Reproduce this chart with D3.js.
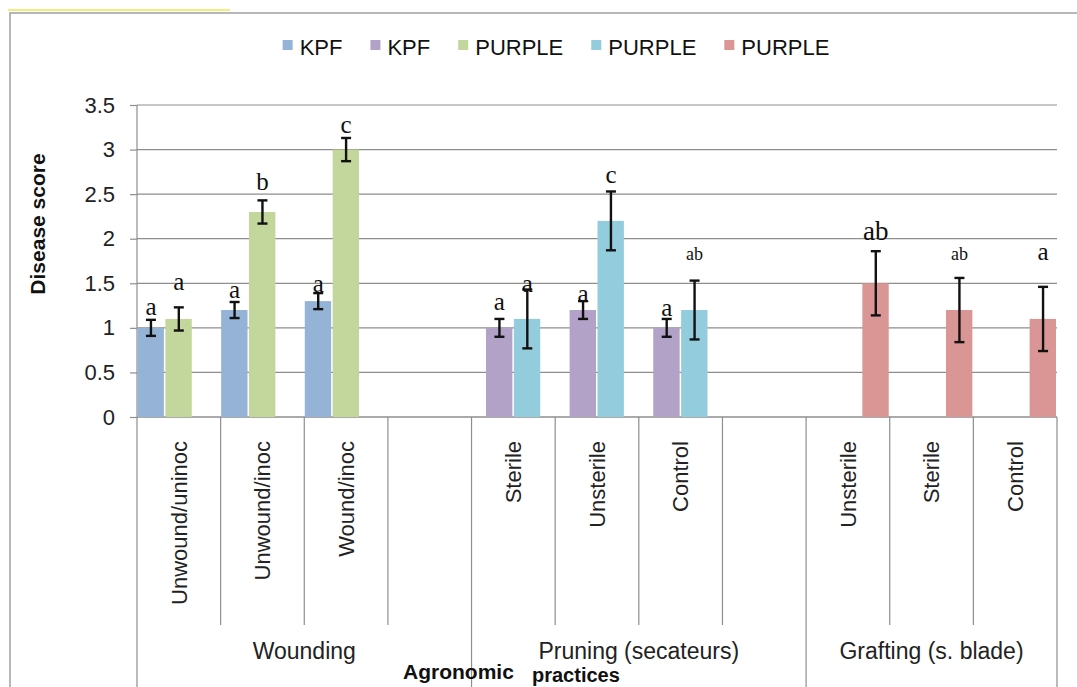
<!DOCTYPE html>
<html>
<head>
<meta charset="utf-8">
<script src="https://cdn.jsdelivr.net/npm/d3@7"></script>
<style>
  body { margin: 0; background: #fff; }
  svg { display: block; font-family: "Liberation Sans", Arial, sans-serif; }
</style>
</head>
<body>
<svg id="chart" width="1077" height="687"></svg>
<script>
// x axis categories, blank slots separate the three practices
var categories = ["Unwound/uninoc", "Unwound/inoc", "Wound/inoc", "",
  "Sterile", "Unsterile", "Control", "",
  "Unsterile", "Sterile", "Control"];
var groups = ["Wounding", "Pruning (secateurs)", "Grafting (s. blade)"];
var groupSizes = [4, 4, 3];
var seriesNames = ["KPF", "KPF", "PURPLE", "PURPLE", "PURPLE"];
var seriesColors = ["#95b3d7", "#b3a2c7", "#c3d69b", "#93cddd", "#d99694"];
var yTicks = [0, 0.5, 1, 1.5, 2, 2.5, 3, 3.5];

// mean disease score (null = no bar)
var kpfWounding    = [1.0, 1.2, 1.3, null, null, null, null, null, null, null, null];
var kpfPruning     = [null, null, null, null, 1.0, 1.2, 1.0, null, null, null, null];
var purpleWounding = [1.1, 2.3, 3.0, null, null, null, null, null, null, null, null];
var purplePruning  = [null, null, null, null, 1.1, 2.2, 1.2, null, null, null, null];
var purpleGrafting = [null, null, null, null, null, null, null, null, 1.5, 1.2, 1.1];

// error bar half widths
var kpfWoundingErr    = [0.09, 0.09, 0.09, null, null, null, null, null, null, null, null];
var kpfPruningErr     = [null, null, null, null, 0.1, 0.1, 0.1, null, null, null, null];
var purpleWoundingErr = [0.13, 0.13, 0.13, null, null, null, null, null, null, null, null];
var purplePruningErr  = [null, null, null, null, 0.33, 0.33, 0.33, null, null, null, null];
var purpleGraftingErr = [null, null, null, null, null, null, null, null, 0.36, 0.36, 0.36];

// significance letters and the score level they sit at
var kpfWoundingSig    = ["a", "a", "a", null, null, null, null, null, null, null, null];
var kpfPruningSig     = [null, null, null, null, "a", "a", "a", null, null, null, null];
var purpleWoundingSig = ["a", "b", "c", null, null, null, null, null, null, null, null];
var purplePruningSig  = [null, null, null, null, "a", "c", "ab", null, null, null, null];
var purpleGraftingSig = [null, null, null, null, null, null, null, null, "ab", "ab", "a"];

var kpfWoundingSigAt    = [1.14, 1.33, 1.40, null, null, null, null, null, null, null, null];
var kpfPruningSigAt     = [null, null, null, null, 1.20, 1.29, 1.13, null, null, null, null];
var purpleWoundingSigAt = [1.42, 2.55, 3.19, null, null, null, null, null, null, null, null];
var purplePruningSigAt  = [null, null, null, null, 1.40, 2.62, 1.76, null, null, null, null];
var purpleGraftingSigAt = [null, null, null, null, null, null, null, null, 1.99, 1.76, 1.76];

var values = [kpfWounding, kpfPruning, purpleWounding, purplePruning, purpleGrafting];
var errors = [kpfWoundingErr, kpfPruningErr, purpleWoundingErr, purplePruningErr, purpleGraftingErr];
var sigs = [kpfWoundingSig, kpfPruningSig, purpleWoundingSig, purplePruningSig, purpleGraftingSig];
var sigAt = [kpfWoundingSigAt, kpfPruningSigAt, purpleWoundingSigAt, purplePruningSigAt, purpleGraftingSigAt];

var margin = { top: 105, left: 137 },
  width = 920,
  height = 312,
  fullH = 687 - margin.top;

var svg = d3.select("#chart");

// outer frame + yellow mark at the top
svg.append("rect")
  .attr("x", 10).attr("y", 13).attr("width", 1100).attr("height", 700)
  .attr("fill", "none").attr("stroke", "#a0a0a0").attr("stroke-width", 1.5);
svg.append("line")
  .attr("x1", 8).attr("x2", 230).attr("y1", 10).attr("y2", 10)
  .attr("stroke", "#f2ee7a").attr("stroke-width", 2);

var g = svg.append("g")
  .attr("transform", "translate(" + margin.left + "," + margin.top + ")");

var x = d3.scaleBand().domain(d3.range(categories.length)).range([0, width]).padding(0);
var y = d3.scaleLinear().domain([0, 3.5]).range([height, 0]);
var barW = x.bandwidth() / 3;
// series overlap by half a bar
var xs = d3.scaleLinear().domain([0, seriesNames.length - 1]).range([0, x.bandwidth() - barW]);

// gridlines
g.selectAll(".grid")
  .data(yTicks)
  .enter().append("line")
  .attr("x1", 0).attr("x2", width)
  .attr("y1", function (d) { return y(d); })
  .attr("y2", function (d) { return y(d); })
  .attr("stroke", "#8e8e8e").attr("stroke-width", 1.2);

// y axis
var yAxis = g.append("g")
  .call(d3.axisLeft(y).tickValues(yTicks).tickFormat(d3.format(""))
    .tickSizeInner(7).tickSizeOuter(0).tickPadding(15));
yAxis.select(".domain").remove();
yAxis.selectAll("line").attr("stroke", "#8e8e8e").attr("stroke-width", 1.2);
yAxis.selectAll("text")
  .attr("font-family", "'Liberation Sans', Arial, sans-serif")
  .attr("font-size", 22).attr("fill", "#222");

// x axis line and category separators
g.append("line")
  .attr("x1", 0).attr("x2", width).attr("y1", height).attr("y2", height)
  .attr("stroke", "#8e8e8e").attr("stroke-width", 1.2);
g.append("line")
  .attr("x1", 0).attr("x2", 0).attr("y1", 0).attr("y2", fullH)
  .attr("stroke", "#8e8e8e").attr("stroke-width", 1.2);

var groupEdges = [0];
groupSizes.forEach(function (n) { groupEdges.push(groupEdges[groupEdges.length - 1] + n); });

g.selectAll(".sep")
  .data(d3.range(1, categories.length + 1))
  .enter().append("line")
  .attr("x1", function (i) { return i < categories.length ? x(i) : width; })
  .attr("x2", function (i) { return i < categories.length ? x(i) : width; })
  .attr("y1", height)
  .attr("y2", function (i) { return groupEdges.indexOf(i) >= 0 ? fullH : 520; })
  .attr("stroke", "#8e8e8e").attr("stroke-width", 1.2);

// category labels
g.selectAll(".cat")
  .data(categories)
  .enter().append("text")
  .attr("transform", function (d, i) {
    return "translate(" + (x(i) + x.bandwidth() / 2) + "," + (height + 24) + ") rotate(-90)";
  })
  .attr("dy", "0.35em")
  .attr("text-anchor", "end")
  .attr("font-size", 22).attr("fill", "#222")
  .text(function (d) { return d; });

// group labels
g.selectAll(".grp")
  .data(groups)
  .enter().append("text")
  .attr("x", function (d, k) {
    var a = x(groupEdges[k]);
    var b = groupEdges[k + 1] < categories.length ? x(groupEdges[k + 1]) : width;
    return (a + b) / 2;
  })
  .attr("y", 554)
  .attr("text-anchor", "middle")
  .attr("font-size", 23).attr("fill", "#222")
  .text(function (d) { return d; });

// bars
var rows = [];
values.forEach(function (arr, s) {
  arr.forEach(function (v, i) {
    if (v != null) rows.push({ s: s, i: i, v: v, e: errors[s][i], l: sigs[s][i], at: sigAt[s][i] });
  });
});

g.selectAll(".bar")
  .data(rows)
  .enter().append("rect")
  .attr("x", function (d) { return x(d.i) + xs(d.s) + 0.5; })
  .attr("width", barW - 1.5)
  .attr("y", function (d) { return y(d.v); })
  .attr("height", function (d) { return height - y(d.v); })
  .attr("fill", function (d) { return seriesColors[d.s]; });

// error bars
var cx = function (d) { return x(d.i) + xs(d.s) + barW / 2; };
var eb = g.selectAll(".err").data(rows).enter().append("g");
eb.append("line")
  .attr("x1", cx).attr("x2", cx)
  .attr("y1", function (d) { return y(d.v - d.e); })
  .attr("y2", function (d) { return y(d.v + d.e); });
eb.append("line")
  .attr("x1", function (d) { return cx(d) - 5; }).attr("x2", function (d) { return cx(d) + 5; })
  .attr("y1", function (d) { return y(d.v - d.e); })
  .attr("y2", function (d) { return y(d.v - d.e); });
eb.append("line")
  .attr("x1", function (d) { return cx(d) - 5; }).attr("x2", function (d) { return cx(d) + 5; })
  .attr("y1", function (d) { return y(d.v + d.e); })
  .attr("y2", function (d) { return y(d.v + d.e); });
eb.selectAll("line").attr("stroke", "#111").attr("stroke-width", 2.4);

// significance letters
var letterSize = function (d) {
  if ((d.s === 3 && d.i === 6) || (d.s === 4 && d.i === 9)) return 18;
  if (d.s === 4 && d.i === 8) return 27;
  return 25;
};
g.selectAll(".sig")
  .data(rows)
  .enter().append("text")
  .attr("x", cx)
  .attr("y", function (d) { return y(d.at); })
  .attr("text-anchor", "middle")
  .attr("font-family", "'Liberation Serif', 'Times New Roman', serif")
  .attr("font-size", letterSize)
  .attr("fill", "#111")
  .text(function (d) { return d.l; });

// axis titles
svg.append("text")
  .attr("transform", "translate(45,224) rotate(-90)")
  .attr("text-anchor", "middle")
  .attr("font-size", 21).attr("font-weight", "bold").attr("fill", "#111")
  .text("Disease score");
svg.append("text")
  .attr("x", 403).attr("y", 679)
  .attr("font-size", 21).attr("font-weight", "bold").attr("fill", "#111")
  .text("Agronomic");
svg.append("text")
  .attr("x", 532).attr("y", 682)
  .attr("font-size", 20).attr("font-weight", "bold").attr("fill", "#111")
  .text("practices");

// legend
var legend = svg.append("g");
var lx = 0;
seriesNames.forEach(function (name, s) {
  var item = legend.append("g").attr("transform", "translate(" + lx + ",0)");
  item.append("rect").attr("x", 0).attr("y", 40).attr("width", 10).attr("height", 10)
    .attr("fill", seriesColors[s]);
  var t = item.append("text").attr("x", 17).attr("y", 55)
    .attr("font-size", 22).attr("fill", "#111").text(name);
  lx += 17 + t.node().getComputedTextLength() + 28;
});
legend.attr("transform", "translate(" + (556 - (lx - 28) / 2) + ",0)");
</script>
</body>
</html>
